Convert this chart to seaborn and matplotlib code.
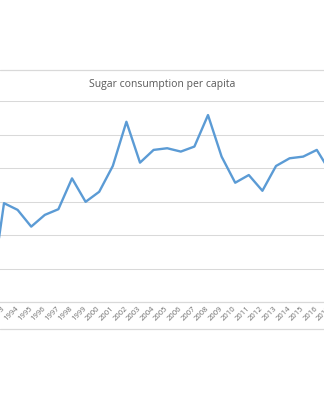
import matplotlib
matplotlib.use("Agg")
import matplotlib.pyplot as plt
import seaborn as sns
import pandas as pd
from matplotlib.lines import Line2D

years = list(range(1992, 2018))
consumption = [1.2, 29.5, 27.5, 22.5, 26.0, 27.7, 36.9, 29.9, 32.9, 40.6,
               53.8, 41.6, 45.4, 45.9, 44.9, 46.4, 55.8, 43.4, 35.6, 37.9,
               33.2, 40.6, 42.9, 43.4, 45.4, 38.8]
tick_labels = [str(y) for y in years]
title = "Sugar consumption per capita"

sns.set_theme(style="white")
plt.rcParams['font.family'] = ['Open Sans', 'DejaVu Sans']

W, H = 324, 400
fig = plt.figure(figsize=(W / 100, H / 100), dpi=100)

# plot area in pixel coordinates (partly outside the cropped figure)
step = 13.6
x_first_tick = 4 + (years[0] - 1993) * step
left_px = x_first_tick - 0.5 * step
right_px = 4 + (years[-1] - 1993) * step + 0.5 * step
top_px, bottom_px = 101, 302
ax = fig.add_axes([left_px / W, 1 - bottom_px / H,
                   (right_px - left_px) / W, (bottom_px - top_px) / H])

df = pd.DataFrame({"year": years, "value": consumption})
sns.lineplot(data=df, x="year", y="value", ax=ax, color="#5B9BD5",
             linewidth=1.7, solid_joinstyle="round")

ax.set_xlim(years[0] - 0.5, years[-1] + 0.5)
ax.set_ylim(0, 60)
ax.set_yticks(range(0, 61, 10))
ax.set_yticklabels([])
ax.grid(axis="y", color="#D9D9D9", linewidth=0.75)
ax.grid(axis="x", visible=False)
ax.set_axisbelow(True)
for s in ["top", "left", "right"]:
    ax.spines[s].set_visible(False)
ax.spines["bottom"].set_color("#D9D9D9")
ax.spines["bottom"].set_linewidth(0.9)
ax.set_xlabel("")
ax.set_ylabel("")
ax.set_xticks(years)
ax.set_xticklabels(tick_labels, rotation=45, ha="right", va="center",
                   rotation_mode="anchor", fontsize=5.5, color="#6E6E6E")
ax.tick_params(axis="x", length=0, pad=4)
ax.tick_params(axis="y", length=0)
ax.set_facecolor("white")

# chart-area border lines
for yp in (70, 329):
    fig.add_artist(Line2D([0, 1], [1 - yp / H, 1 - yp / H], transform=fig.transFigure,
                          color="#D9D9D9", linewidth=0.9))

fig.text(162 / W, 1 - 85 / H, title, ha="center", va="center",
         fontsize=7.5, color="#595959")

fig.savefig("out.png", dpi=100, facecolor="white")
